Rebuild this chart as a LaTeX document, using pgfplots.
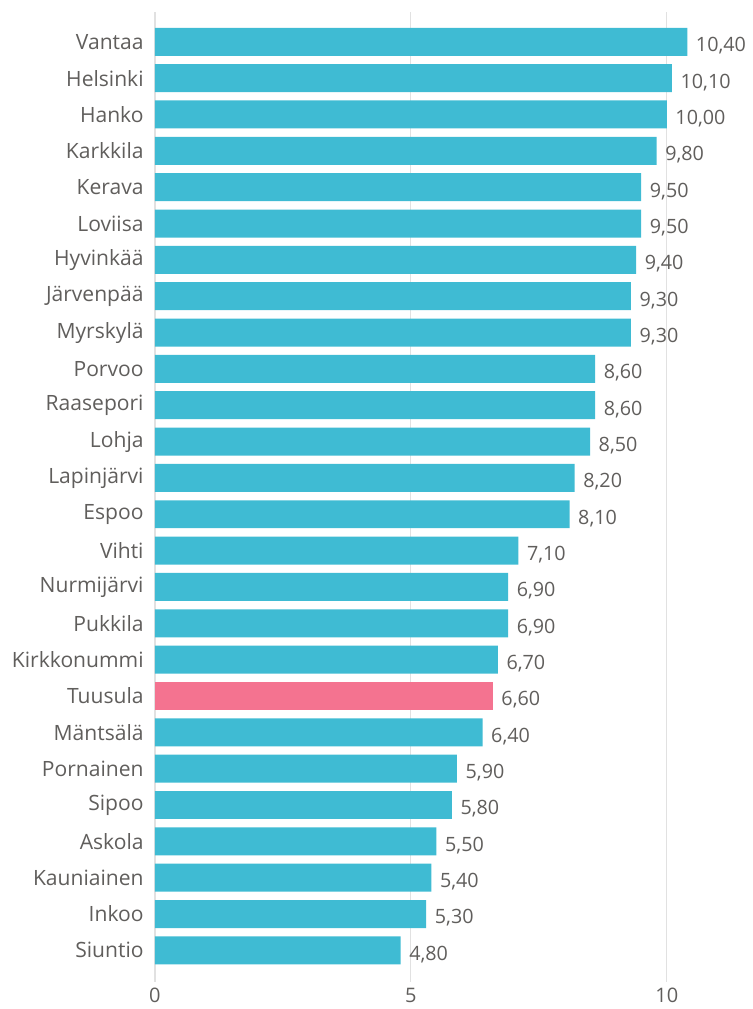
\documentclass[border=0pt]{standalone}
\usepackage{fontspec}
\setmainfont{Open Sans}
\usepackage{pgfplots}
\pgfplotsset{compat=1.18}
\definecolor{barteal}{HTML}{3FBBD3}
\definecolor{barpink}{HTML}{F47390}
\definecolor{txtgray}{HTML}{605E5C}
\definecolor{gridgray}{HTML}{E1E1E1}

\begin{document}
\begin{tikzpicture}[x=1pt,y=1pt]
\begin{axis}[
    name=ax,
    xbar, bar width=0.77, bar shift=0pt,
    scale only axis,
    width=441.6pt, height=728pt,
    xmin=0, xmax=11.5,
    ymin=-0.82, ymax=25.88, y dir=reverse,
    xtick={0,5,10},
    ytick={0,...,25},
    yticklabels={Vantaa,Helsinki,Hanko,Karkkila,Kerava,Loviisa,Hyvinkää,Järvenpää,Myrskylä,Porvoo,Raasepori,Lohja,Lapinjärvi,Espoo,Vihti,Nurmijärvi,Pukkila,Kirkkonummi,Tuusula,Mäntsälä,Pornainen,Sipoo,Askola,Kauniainen,Inkoo,Siuntio},
    axis line style={draw=none},
    major tick length=0pt,
    xmajorgrids, grid style={gridgray, line width=0.9pt},
    tick label style={font=\fontsize{15}{17}\selectfont, text=txtgray},
    yticklabel style={xshift=-5pt, font=\fontsize{15.8}{17}\selectfont},
    xticklabel style={yshift=-1pt},
    /pgf/number format/assume math mode=true,
    point meta=x,
    nodes near coords,
    nodes near coords style={font=\fontsize{14.8}{16}\selectfont, text=txtgray, anchor=west, xshift=3pt, yshift=-3pt,
        /pgf/number format/.cd, fixed, fixed zerofill, precision=2, use comma, assume math mode=true},
    clip=false,
]
\addplot[fill=barteal, draw=none] coordinates {
    (10.4,0) (10.1,1) (10.0,2) (9.8,3) (9.5,4) (9.5,5) (9.4,6) (9.3,7) (9.3,8)
    (8.6,9) (8.6,10) (8.5,11) (8.2,12) (8.1,13) (7.1,14) (6.9,15) (6.9,16) (6.7,17)
    (6.4,19) (5.9,20) (5.8,21) (5.5,22) (5.4,23) (5.3,24) (4.8,25)
};
\addplot[fill=barpink, draw=none] coordinates {(6.6,18)};
\end{axis}
\pgfresetboundingbox
\path (ax.south west) ++(-116.25pt,-20pt) rectangle ([xshift=6.9pt,yshift=9pt]ax.north east);
\end{tikzpicture}
\end{document}
